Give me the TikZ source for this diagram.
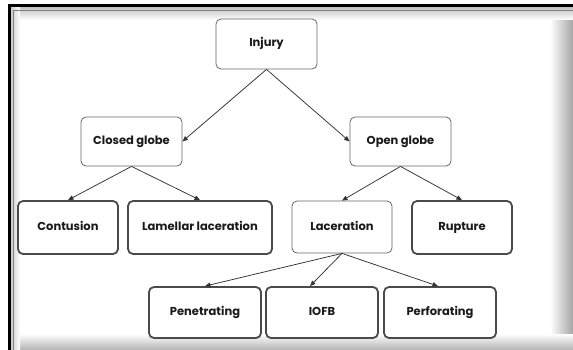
\documentclass[tikz,border=0pt]{standalone}
\usepackage{fontspec}
\setmainfont{Poppins}
\usetikzlibrary{arrows.meta}
\definecolor{boxline}{HTML}{666666}
\definecolor{thickline}{HTML}{4A4A4A}
\definecolor{arrowcol}{HTML}{333333}
\definecolor{txt}{HTML}{1A1A1A}
\begin{document}
\begin{tikzpicture}[x=1pt,y=-1pt,
	box/.style={draw=boxline,line width=0.8pt,rounded corners=5pt,fill=white,
		text=txt,font=\bfseries\fontsize{11.5}{13}\selectfont,inner sep=0pt,
		text height=8pt,text depth=2pt},
	thickbox/.style={box,draw=thickline,line width=1.8pt},
	link/.style={draw=arrowcol,line width=0.75pt,-{Triangle[length=5.5pt,width=4.5pt]}}]
	\useasboundingbox (0,0) rectangle (573,350);
	\fill[white] (0,0) rectangle (573,350);
	
	% frame
	\shade[left color=white,right color=black!35] (550,6) rectangle (573,350);
	\shade[top color=white,bottom color=black!30] (10,334) rectangle (573,350);
	\shade[top color=black!22,bottom color=white] (10,8) rectangle (573,20);
	\shade[left color=black!22,right color=white] (10,8) rectangle (20,350);
	\draw[black!50,line width=0.8pt] (13,350) -- (13,10) -- (573,10);
	\draw[black,line width=3pt] (9,350) -- (9,6) -- (573,6);
	
	% first rows
	\node[box,minimum width=101pt,minimum height=50pt] (injury) at (266.5,44) {Injury};
	\node[box,minimum width=101pt,minimum height=49pt] (closed) at (131.5,141.5) {Closed globe};
	\node[box,minimum width=101pt,minimum height=49pt] (open) at (400.5,141.5) {Open globe};
	
	\node[thickbox,minimum width=100pt,minimum height=53pt] (contusion) at (68,227.5) {Contusion};
	\node[thickbox,minimum width=144pt,minimum height=53pt] (lamellar) at (200,227.5) {Lamellar laceration};
	\node[box,minimum width=100pt,minimum height=52pt] (laceration) at (342,227) {Laceration};
	\node[thickbox,minimum width=100pt,minimum height=53pt] (rupture) at (462,227.5) {Rupture};
	
	% last row
	\node[thickbox,minimum width=112pt,minimum height=51pt] (penetrating) at (205,312.5) {Penetrating};
	\node[thickbox,minimum width=112pt,minimum height=51pt] (iofb) at (322,312.5) {IOFB};
	\node[thickbox,minimum width=112pt,minimum height=51pt] (perforating) at (440,312.5) {Perforating};
	
	\draw[link] (injury.south) -- (closed.east);
	\draw[link] (injury.south) -- (open.west);
	\draw[link] (closed.south) -- (contusion.north);
	\draw[link] (closed.south) -- (lamellar.north);
	\draw[link] (open.south) -- (laceration.north);
	\draw[link] (open.south) -- (rupture.north);
	\draw[link] (laceration.south) -- (penetrating.north);
	\draw[link] (laceration.south) -- ([xshift=-12pt]iofb.north);
	\draw[link] (laceration.south) -- ([xshift=-2pt]perforating.north);
\end{tikzpicture}
\end{document}
